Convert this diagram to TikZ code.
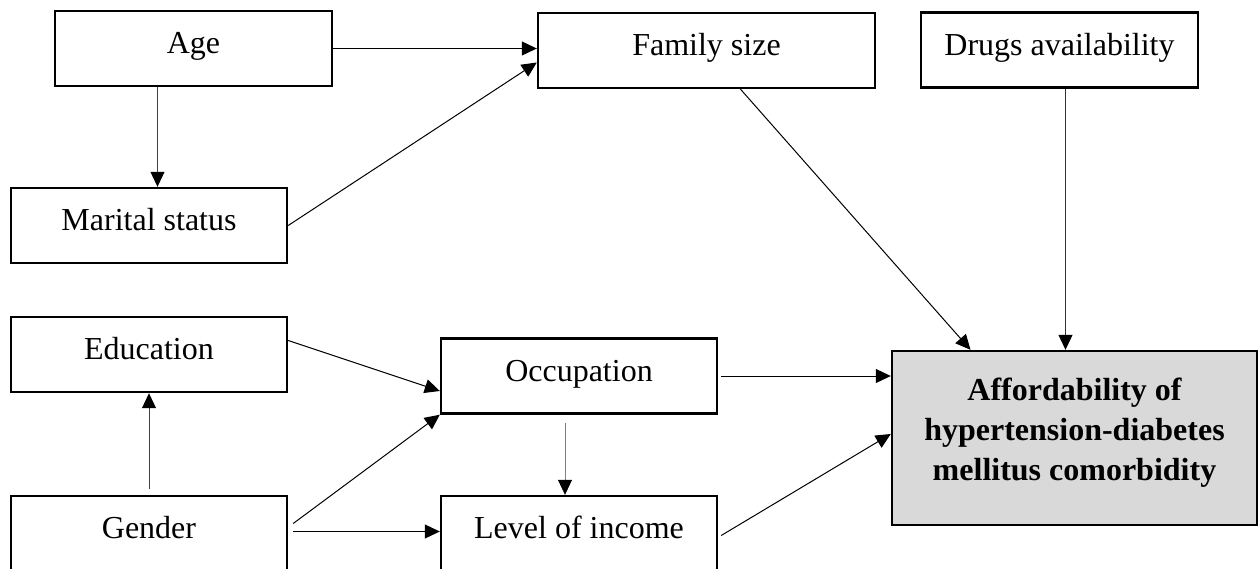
\documentclass[tikz,border=0pt]{standalone}
\usepackage{fontspec}
\setmainfont{Liberation Serif}
\usetikzlibrary{arrows.meta}

\definecolor{affordgray}{RGB}{217,217,217}

\tikzset{
    factor/.style={draw=black, line width=1.2pt, minimum width=138pt, minimum height=37.5pt,
        inner sep=0pt, text height=12pt, text depth=7pt,
        font=\fontsize{16}{20}\selectfont},
    outcome/.style={draw=black, line width=1.2pt, fill=affordgray, minimum width=182.5pt,
        minimum height=87pt, inner sep=0pt, align=center, text height=48pt, text depth=5.5pt,
        font=\fontsize{16}{20}\selectfont\bfseries},
    arr/.style={-{Triangle[length=7.5pt,width=7pt,color=black]}, line width=0.5pt},
}

\begin{document}
\begin{tikzpicture}[x=0.5pt,y=-0.5pt]
    \useasboundingbox (0,0) rectangle (1258,568);
    % left column
    \node[factor, minimum width=138.5pt] (age) at (193.5,48.5) {Age};
    \node[factor] (marital) at (149,225.5) {Marital status};
    \node[factor] (edu) at (149,354.5) {Education};
    \node[factor] (gender) at (149,533.5) {Gender};
    % middle column
    \node[factor, minimum width=168.5pt] (family) at (706.5,50.5) {Family size};
    \node[factor] (occup) at (579,376) {Occupation};
    \node[factor] (income) at (579,533.5) {Level of income};
    % right column
    \node[factor, minimum width=138.5pt] (drugs) at (1059.5,50) {Drugs availability};
    \node[outcome] (afford) at (1074.5,438) {Affordability of\\hypertension-diabetes\\mellitus comorbidity};

    \draw[arr] (age.east) -- (age.east -| family.west);
    \draw[arr, black!75] ([xshift=-18pt]age.south) -- ([xshift=-18pt]age.south |- marital.north);
    \draw[arr] (marital.east) -- ([yshift=-6pt]family.west);
    \draw[arr] ([xshift=17pt]family.south) -- ([xshift=-52pt]afford.north);
    \draw[arr, black!80] ([xshift=3pt]drugs.south) -- ([xshift=3pt]drugs.south |- afford.north);
    \draw[arr] ([yshift=7pt]edu.east) -- ([yshift=-7.5pt]occup.west);
    \draw[arr, black!75] (gender.north |- 0,489) -- (edu.south);
    \draw[arr] ([xshift=2.5pt,yshift=5pt]gender.east) -- (occup.south west);
    \draw[arr] ([xshift=2.5pt,yshift=1pt]gender.east) -- ([yshift=1pt]gender.east -| income.west);
    \draw[arr, black!50, line width=0.4pt] ([xshift=-7pt,yshift=-4pt]occup.south) -- ([xshift=-7pt]income.north);
    \draw[arr] ([xshift=1.5pt]occup.east) -- (occup.east -| afford.west);
    \draw[arr] ([xshift=1.5pt,yshift=-1pt]income.east) -- ([yshift=2pt]afford.west);
\end{tikzpicture}
\end{document}
